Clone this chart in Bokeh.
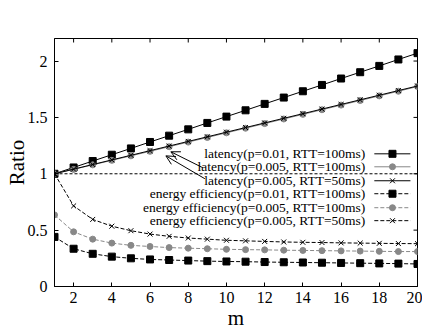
import math
from bokeh.plotting import figure
from bokeh.models import FixedTicker, Span, Arrow, OpenHead
from bokeh.core.properties import value
from bokeh.embed import file_html
from bokeh.resources import INLINE

# ---------------- data ----------------
m = list(range(1, 21))
lat_p01_rtt100 = [1.0, 1.056, 1.113, 1.169, 1.225, 1.282, 1.338, 1.394, 1.451, 1.507,
                  1.563, 1.62, 1.676, 1.732, 1.788, 1.845, 1.901, 1.957, 2.014, 2.07]
lat_p005_rtt100 = [1.0, 1.039, 1.079, 1.119, 1.159, 1.199, 1.240, 1.281, 1.322, 1.363,
                   1.404, 1.445, 1.486, 1.527, 1.568, 1.609, 1.650, 1.691, 1.732, 1.774]
lat_p005_rtt50 = [1.0, 1.041, 1.082, 1.123, 1.164, 1.205, 1.246, 1.287, 1.328, 1.369,
                  1.41, 1.451, 1.492, 1.533, 1.574, 1.615, 1.656, 1.697, 1.738, 1.779]
ee_p01_rtt100 = [0.44, 0.335, 0.29, 0.265, 0.25, 0.24, 0.235, 0.23, 0.225, 0.222,
                 0.22, 0.217, 0.215, 0.213, 0.211, 0.209, 0.207, 0.205, 0.203, 0.2]
ee_p005_rtt100 = [0.635, 0.485, 0.42, 0.385, 0.365, 0.355, 0.345, 0.34, 0.335, 0.33,
                  0.327, 0.325, 0.322, 0.32, 0.318, 0.316, 0.314, 0.312, 0.31, 0.31]
ee_p005_rtt50 = [1.0, 0.715, 0.595, 0.535, 0.495, 0.465, 0.445, 0.43, 0.42, 0.41,
                 0.405, 0.40, 0.395, 0.392, 0.39, 0.387, 0.385, 0.383, 0.381, 0.38]

x_ticks = [2, 4, 6, 8, 10, 12, 14, 16, 18, 20]
y_ticks = [0, 0.5, 1, 1.5, 2]

legend_labels = [
    "latency(p=0.01, RTT=100ms)",
    "latency(p=0.005, RTT=100ms)",
    "latency(p=0.005, RTT=50ms)",
    "energy efficiency(p=0.01, RTT=100ms)",
    "energy efficiency(p=0.005, RTT=100ms)",
    "energy efficiency(p=0.005, RTT=50ms)",
]

# ---------------- styles ----------------
FONT = "Liberation Serif"
GRAY = "#888888"
DASH = "4 2"
series = [
    (lat_p01_rtt100, "black", "solid", "square"),
    (lat_p005_rtt100, GRAY, "solid", "circle"),
    (lat_p005_rtt50, "black", "solid", "x"),
    (ee_p01_rtt100, "black", DASH, "square"),
    (ee_p005_rtt100, GRAY, DASH, "circle"),
    (ee_p005_rtt50, "black", DASH, "x"),
]
marker_size = {"square": 7, "circle": 6, "x": 7}
X_MIN, X_MAX, Y_MIN, Y_MAX = 1, 20, 0, 2.2

p = figure(width=422, height=334, x_range=(X_MIN, X_MAX), y_range=(Y_MIN, Y_MAX),
           output_backend="svg", toolbar_location=None,
           min_border_left=54, min_border_right=5, min_border_top=38, min_border_bottom=48)
p.background_fill_color = "white"
p.border_fill_color = "white"
p.outline_line_color = "black"
p.grid.visible = False

for ax in (p.xaxis[0], p.yaxis[0]):
    ax.major_tick_in = 4
    ax.major_tick_out = 0
    ax.minor_tick_in = 0
    ax.minor_tick_out = 0
    ax.axis_line_color = "black"
    ax.major_tick_line_color = "black"
    ax.major_label_text_font = FONT
    ax.major_label_text_font_size = "16px"
    ax.major_label_text_font_style = "normal"
    ax.major_label_text_color = "black"
    ax.axis_label_text_font = FONT
    ax.axis_label_text_font_size = "21px"
    ax.axis_label_text_font_style = "normal"
    ax.axis_label_text_color = "black"
p.xaxis[0].ticker = FixedTicker(ticks=x_ticks)
p.yaxis[0].ticker = FixedTicker(ticks=y_ticks)
p.xaxis[0].major_label_standoff = 5
p.yaxis[0].major_label_standoff = 7
p.xaxis[0].axis_label_standoff = 0
p.yaxis[0].axis_label_standoff = -4
p.xaxis[0].axis_label = "m"
p.yaxis[0].axis_label = "Ratio"

# mirrored inward ticks on top and right (half of each dash is clipped by the frame)
p.scatter(x=x_ticks, y=[Y_MAX] * len(x_ticks), marker="dash", angle=math.pi / 2,
          size=8, line_color="black", line_width=1)
p.scatter(x=[X_MAX] * len(y_ticks), y=y_ticks, marker="dash",
          size=8, line_color="black", line_width=1)

# reference line at 1
p.add_layout(Span(location=1, dimension="width", line_color="black",
                  line_dash="3 2", line_width=1))

for vals, color, dash, marker in series:
    p.line(m, vals, line_color=color, line_dash=dash, line_width=1)
    if marker == "x":
        p.scatter(m, vals, marker="x", size=marker_size[marker], line_color=color, line_width=1)
    else:
        p.scatter(m, vals, marker=marker, size=marker_size[marker],
                  fill_color=color, line_color=color)

# ---------------- legend (gnuplot style: text then sample) ----------------
leg_text_x = 17.27
leg_line_x0 = 17.74
leg_line_x1 = 19.63
leg_mark_x = 18.69
leg_rows = [1.177, 1.062, 0.938, 0.823, 0.699, 0.584]

p.text(x=[leg_text_x] * len(legend_labels), y=leg_rows, text=legend_labels,
       text_align="right", text_baseline="middle", text_font=value(FONT),
       text_font_size="13.5px", text_color="black")
for (vals, color, dash, marker), yy in zip(series, leg_rows):
    p.line([leg_line_x0, leg_line_x1], [yy, yy], line_color=color, line_dash=dash, line_width=1)
    if marker == "x":
        p.scatter([leg_mark_x], [yy], marker="x", size=marker_size[marker], line_color=color)
    else:
        p.scatter([leg_mark_x], [yy], marker=marker, size=marker_size[marker],
                  fill_color=color, line_color=color)

# ---------------- arrows ----------------
arrows = [((8.77, 1.053), (7.09, 1.195)), ((8.87, 0.956), (6.83, 1.159))]
for (xs, ys), (xe, ye) in arrows:
    p.add_layout(Arrow(end=OpenHead(size=9, line_color="black", line_width=1),
                       x_start=xs, y_start=ys, x_end=xe, y_end=ye,
                       line_color="black", line_width=1))

open("out.html", "w").write(file_html(p, INLINE))
